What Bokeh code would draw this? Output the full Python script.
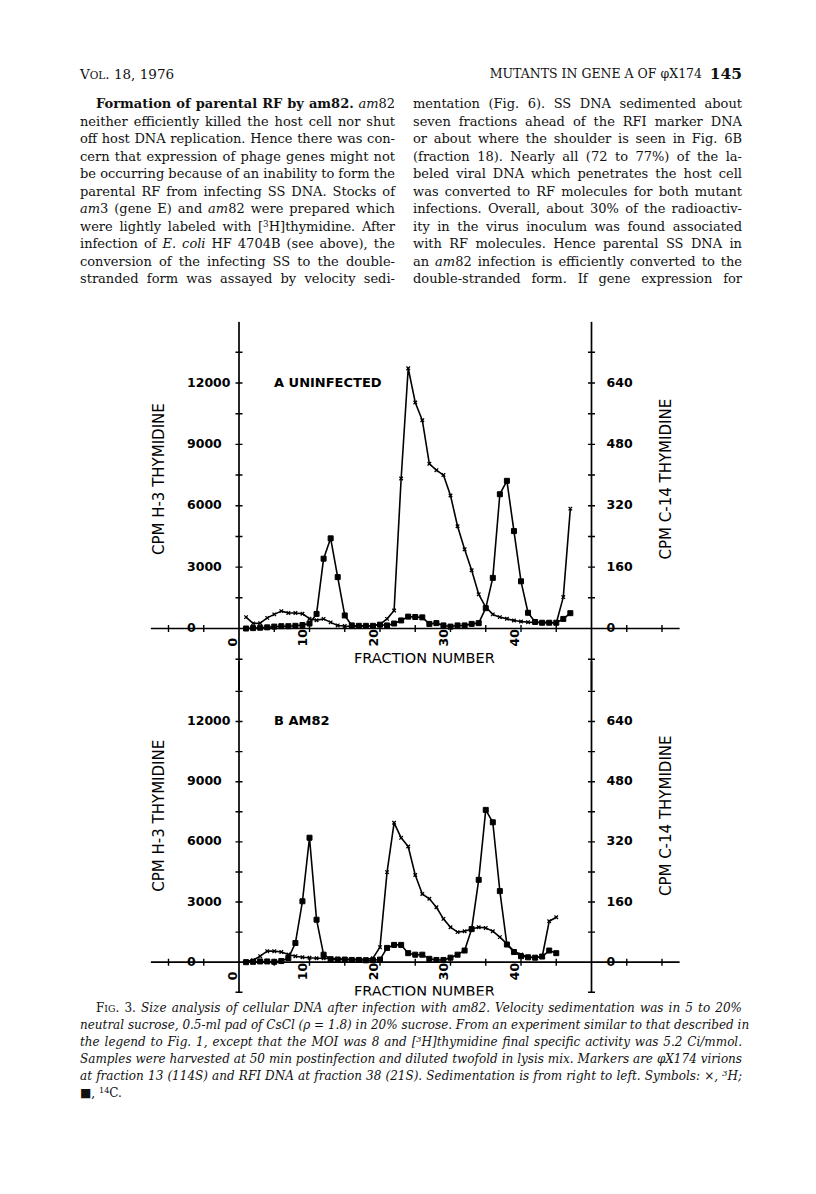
import numpy as np
from bokeh.plotting import figure
from bokeh.models import Range1d, Div
from bokeh.layouts import column
from bokeh.core.properties import value
from bokeh.embed import file_html
from bokeh.resources import INLINE

# ---------------- data ----------------
fractions_a = list(range(1, 48))
h3_a = [555, 250, 260, 520, 690, 850, 760, 760, 720, 480, 400, 470, 300, 150, 120, 100,
        110, 120, 130, 200, 470, 880, 7330, 12720, 11050, 10180, 8050, 7740, 7500, 6500,
        5000, 3870, 2850, 1670, 1050, 690, 555, 475, 390, 345, 310, 295, 295, 310, 260,
        1535, 5860]
c14_a = [0, 1, 2, 3, 5, 6, 6, 7, 9, 13, 38, 182, 235, 134, 34, 8, 7, 7, 7, 10, 8, 13,
         21, 31, 30, 29, 12, 14, 8, 5, 8, 8, 12, 14, 53, 132, 350, 385, 254, 123, 41, 17,
         15, 15, 15, 25, 40]

fractions_b = list(range(1, 46))
h3_b = [50, 100, 300, 550, 550, 510, 380, 300, 250, 220, 200, 200, 180, 170, 160, 150,
        150, 150, 200, 750, 4490, 6950, 6200, 5770, 4350, 3400, 3160, 2740, 2160, 1745,
        1500, 1545, 1660, 1745, 1710, 1545, 1250, 910, 550, 380, 260, 250, 260, 2040, 2240]
c14_b = [0, 1, 2, 2, 1, 3, 11, 51, 162, 331, 113, 20, 8, 7, 7, 6, 6, 5, 5, 7, 38, 46, 46,
         24, 20, 20, 9, 6, 6, 12, 20, 31, 88, 219, 405, 372, 189, 47, 27, 16, 13, 12, 15,
         31, 24]

h3_ticks = [0, 3000, 6000, 9000, 12000]
h3_tick_labels = ["0", "3000", "6000", "9000", "12000"]
c14_ticks = [0, 160, 320, 480, 640]
c14_tick_labels = ["0", "160", "320", "480", "640"]
fraction_ticks = [0, 10, 20, 30, 40]
fraction_tick_labels = ["0", "10", "20", "30", "40"]
minor_fraction_ticks = [-10, -5, 5, 10, 15, 20, 25, 30, 35, 40, 45, 55, 60]

# ---------------- geometry (pixels from the top-left of the layout) ----------------
W = 810
TOP_H = 312
FIG_H = 688
CAP_H = 190
FRAME_TOP, FRAME_BOT = 321, 995
FRAME_L, FRAME_R = 148, 682
X0_PX, PX_PER_FR = 238.5, 7.05
A_ZERO, A_K = 628.0, 245.5 / 12000
B_ZERO, B_K = 961.7, 240.7 / 12000
C14_FACTOR = 12000 / 640

x_range = Range1d((FRAME_L - X0_PX) / PX_PER_FR, (FRAME_R - X0_PX) / PX_PER_FR)
ya = Range1d(-(FRAME_BOT - A_ZERO) / A_K, (A_ZERO - FRAME_TOP) / A_K)
yb = Range1d(-(FRAME_BOT - B_ZERO) / B_K, (B_ZERO - FRAME_TOP) / B_K)

p = figure(width=W, height=FIG_H, x_range=x_range, y_range=ya,
           output_backend="svg", toolbar_location=None,
           x_axis_location=None, y_axis_location=None, title=None,
           min_border_left=FRAME_L, min_border_right=W - FRAME_R,
           min_border_top=FRAME_TOP - TOP_H, min_border_bottom=TOP_H + FIG_H - FRAME_BOT)
p.outline_line_color = None
p.xgrid.visible = False
p.ygrid.visible = False
p.extra_y_ranges = {
    "b": yb,
    "a14": Range1d(ya.start / C14_FACTOR, ya.end / C14_FACTOR),
    "b14": Range1d(yb.start / C14_FACTOR, yb.end / C14_FACTOR),
}

FONT = value("DejaVu Sans")


def draw_chart(yr, yr14, fr, h3, c14, axis_low, tag):
    # axes
    p.segment(x0=[-12.5, 0, 50], y0=[0, axis_low, axis_low],
              x1=[62.5, 0, 50], y1=[0, 15000, 15000],
              y_range_name=yr, line_color="black", line_width=1.7)
    vt = [v for v in range(-1500, 15000, 1500) if v != 0]
    p.scatter(x=[0] * len(vt) + [50] * len(vt), y=vt + vt, marker="dash", size=7,
              line_color="black", line_width=1.4, y_range_name=yr)
    p.scatter(x=minor_fraction_ticks, y=[0] * len(minor_fraction_ticks), marker="dash",
              angle=np.pi / 2, size=7, line_color="black", line_width=1.4, y_range_name=yr)
    # tick labels
    p.text(x=[0] * 5, y=h3_ticks, text=h3_tick_labels, y_range_name=yr,
           x_offset=-52, y_offset=-1, text_align="left", text_baseline="middle",
           text_font=FONT, text_font_size="12.5px", text_font_style="bold")
    p.text(x=[50] * 5, y=c14_ticks, text=c14_tick_labels, y_range_name=yr14,
           x_offset=15, y_offset=-1, text_align="left", text_baseline="middle",
           text_font=FONT, text_font_size="12.5px", text_font_style="bold")
    p.text(x=fraction_ticks, y=[0] * 5, text=fraction_tick_labels, y_range_name=yr,
           x_offset=-7, y_offset=18, angle=np.pi / 2, text_align="left",
           text_baseline="middle", text_font=FONT, text_font_size="12.5px",
           text_font_style="bold")
    # titles
    p.text(x=[0], y=[7300], text=["CPM H-3 THYMIDINE"], y_range_name=yr, x_offset=-80,
           angle=np.pi / 2, text_align="center", text_baseline="middle",
           text_font=FONT, text_font_size="15px")
    p.text(x=[50], y=[7300], text=["CPM C-14 THYMIDINE"], y_range_name=yr, x_offset=74,
           angle=np.pi / 2, text_align="center", text_baseline="middle",
           text_font=FONT, text_font_size="15px")
    p.text(x=[26.3], y=[0], text=["FRACTION NUMBER"], y_range_name=yr, y_offset=29,
           text_align="center", text_baseline="middle", text_font=FONT,
           text_font_size="14.5px")
    p.text(x=[0], y=[12000], text=[tag], y_range_name=yr, x_offset=35, y_offset=-1,
           text_align="left", text_baseline="middle", text_font=FONT,
           text_font_size="13px", text_font_style="bold")
    # data
    p.line(fr, h3, y_range_name=yr, line_color="black", line_width=1.6)
    p.scatter(fr, h3, y_range_name=yr, marker="x", size=5, line_color="black",
              line_width=1.3)
    p.line(fr, c14, y_range_name=yr14, line_color="black", line_width=1.6)
    p.scatter(fr, c14, y_range_name=yr14, marker="square", size=5, line_color="black",
              fill_color="black")


draw_chart("default", "a14", fractions_a, h3_a, c14_a, -3000, "A UNINFECTED")
draw_chart("b", "b14", fractions_b, h3_b, c14_b, -1500, "B AM82")

# ---------------- page text ----------------
SUP = "<span style='font-size:0.68em;vertical-align:0.45em;line-height:0'>{}</span>"
SC = "<span style='font-size:0.78em'>{}</span>"


def line_div(left, cy, width, html, size, justify=True, style="", off_y=0):
    top = cy - 9 - off_y
    j = "text-align:justify;text-align-last:justify;" if justify else ""
    return (f"<div style=\"position:absolute;left:{left}px;top:{top}px;"
            f"width:{width}px;height:18px;line-height:18px;white-space:nowrap;"
            f"font-size:{size}px;{j}{style}\">{html}</div>")


left_col = [
    "<b>Formation of parental RF by am82.</b> <i>am</i>82",
    "neither efficiently killed the host cell nor shut",
    "off host DNA replication. Hence there was con-",
    "cern that expression of phage genes might not",
    "be occurring because of an inability to form the",
    "parental RF from infecting SS DNA. Stocks of",
    "<i>am</i>3 (gene E) and <i>am</i>82 were prepared which",
    "were lightly labeled with [" + SUP.format("3") + "H]thymidine. After",
    "infection of <i>E. coli</i> HF 4704B (see above), the",
    "conversion of the infecting SS to the double-",
    "stranded form was assayed by velocity sedi-",
]
right_col = [
    "mentation (Fig. 6). SS DNA sedimented about",
    "seven fractions ahead of the RFI marker DNA",
    "or about where the shoulder is seen in Fig. 6B",
    "(fraction 18). Nearly all (72 to 77%) of the la-",
    "beled viral DNA which penetrates the host cell",
    "was converted to RF molecules for both mutant",
    "infections. Overall, about 30% of the radioactiv-",
    "ity in the virus inoculum was found associated",
    "with RF molecules. Hence parental SS DNA in",
    "an <i>am</i>82 infection is efficiently converted to the",
    "double-stranded form. If gene expression for",
]
caption = [
    "<span style='font-style:normal'>F" + SC.format("IG") + ". 3.</span> Size analysis of "
    "cellular DNA after infection with am82. Velocity sedimentation was in 5 to 20%",
    "neutral sucrose, 0.5-ml pad of CsCl (ρ = 1.8) in 20% sucrose. From an experiment "
    "similar to that described in",
    "the legend to Fig. 1, except that the MOI was 8 and [" + SUP.format("3") +
    "H]thymidine final specific activity was 5.2 Ci/mmol.",
    "Samples were harvested at 50 min postinfection and diluted twofold in lysis mix. "
    "Markers are φX174 virions",
    "at fraction 13 (114S) and RFI DNA at fraction 38 (21S). Sedimentation is from right "
    "to left. Symbols: <span style='font-style:normal'>×</span>, " + SUP.format("3") + "H;",
    "<span style='font-style:normal'>■, " + SUP.format("14") + "C.</span>",
]

SERIF = "'DejaVu Serif',serif"
parts = []
parts.append(line_div(80, 74, 200, "V" + SC.format("OL") + ". 18, 1976", 13.5, justify=False))
parts.append(line_div(380, 74, 322, "MUTANTS IN GENE A OF φX174", 12.5, justify=False,
                      style="text-align:right;"))
parts.append(line_div(700, 74, 42, "145", 15.5, justify=False,
                      style="text-align:right;font-weight:bold;"))
for i, t in enumerate(left_col):
    cy = 104 + 17.5 * i
    if i == 0:
        parts.append(line_div(96, cy, 299, t, 13))
    else:
        parts.append(line_div(80, cy, 315, t, 13))
for i, t in enumerate(right_col):
    cy = 104 + 17.5 * i
    parts.append(line_div(413, cy, 329, t, 13))

top_html = (f"<div style=\"position:relative;width:{W}px;height:{TOP_H}px;overflow:hidden;"
            f"font-family:{SERIF};color:#111;\">" + "".join(parts) + "</div>")
top_div = Div(text=top_html, width=W, height=TOP_H, margin=0)

cparts = []
for i, t in enumerate(caption):
    cy = 1008 + 17 * i
    last = i == len(caption) - 1
    if i == 0:
        cparts.append(line_div(96, cy, 646, t, 12, style="font-style:italic;",
                               off_y=TOP_H + FIG_H))
    else:
        cparts.append(line_div(80, cy, 662, t, 12, justify=not last,
                               style="font-style:italic;", off_y=TOP_H + FIG_H))
cap_html = (f"<div style=\"position:relative;width:{W}px;height:{CAP_H}px;overflow:hidden;"
            f"font-family:{SERIF};color:#111;\">" + "".join(cparts) + "</div>")
cap_div = Div(text=cap_html, width=W, height=CAP_H, margin=0)

layout = column(top_div, p, cap_div, spacing=0)
open("out.html", "w").write(file_html(layout, INLINE))
